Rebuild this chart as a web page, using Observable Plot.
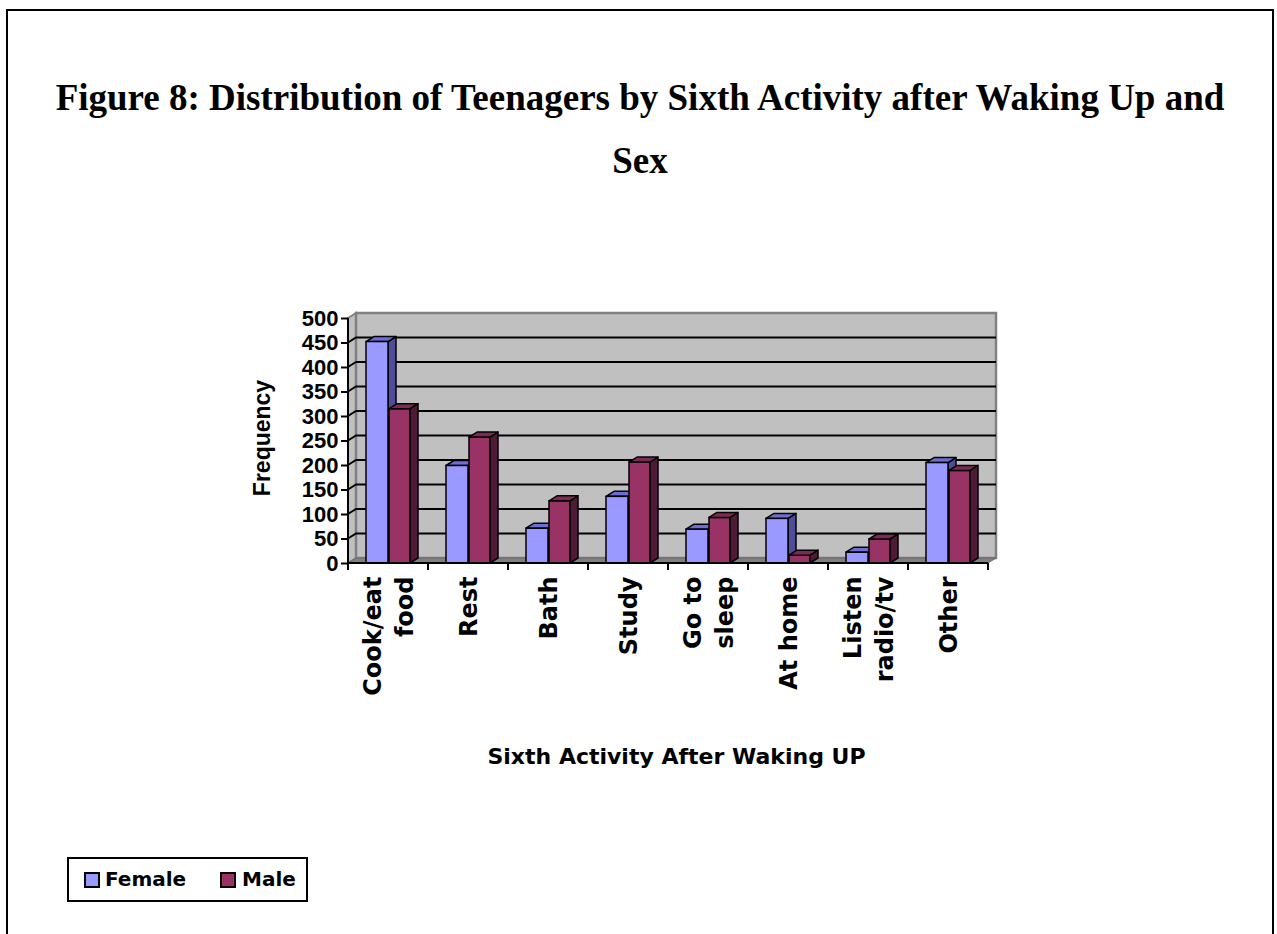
<!DOCTYPE html>
<html><head><meta charset="utf-8">
<script src="https://cdn.jsdelivr.net/npm/d3@7"></script>
<script src="https://cdn.jsdelivr.net/npm/@observablehq/plot@0.6"></script>
<style>
body{margin:0;background:#fff;}
#page{position:relative;width:1277px;height:934px;overflow:hidden;background:#fff;}
#border{position:absolute;left:6px;top:9px;width:1268px;height:960px;border:2px solid #000;box-sizing:border-box;}
#title{position:absolute;left:7px;width:1266px;top:66px;text-align:center;font-family:"Liberation Serif","Times New Roman",serif;font-weight:bold;font-size:37px;line-height:63px;color:#000;}
#chart{position:absolute;left:0;top:0;}
#legend{position:absolute;left:67px;top:857px;width:241px;height:45px;border:2px solid #000;box-sizing:border-box;background:#fff;font-family:"DejaVu Sans";font-weight:bold;font-size:20px;line-height:20px;color:#000;}
.sw{position:absolute;width:12px;height:12px;border:2px solid #000;}
.lt{position:absolute;white-space:nowrap;}
</style>
</head><body>
<div id="page">
  <div id="border"></div>
  <div id="title">Figure 8: Distribution of Teenagers by Sixth Activity after Waking Up and<br>Sex</div>
  <div id="chart"></div>
  <div id="legend"></div>
</div>
<script>
const categories = ["Cook/eat\nfood", "Rest", "Bath", "Study", "Go to\nsleep", "At home", "Listen\nradio/tv", "Other"];
const female = [452, 199, 71, 136, 69, 91, 22, 205];
const male = [315, 257, 127, 206, 93, 16, 49, 189];
const seriesNames = ["Female", "Male"];
const yTicks = [0, 50, 100, 150, 200, 250, 300, 350, 400, 450, 500];
const xTitle = "Sixth Activity After Waking UP";
const yTitle = "Frequency";

const colors = {
  Female: {front: "#9999FF", top: "#6E6ED6", side: "#4D4D99"},
  Male: {front: "#993366", top: "#7E2A55", side: "#4F1A35"}
};
const DX = 8, DY = 5;
const FONT = "DejaVu Sans";
const ARIAL = "Liberation Sans, Arial, sans-serif";

const rows = [];
categories.forEach((c, i) => {
  rows.push({cat: c, sex: "Female", value: female[i]});
  rows.push({cat: c, sex: "Male", value: male[i]});
});

const walls = (index, scales) => {
  const x = scales.x, y = scales.y;
  const bw = x.bandwidth();
  const L = x(categories[0]), R = x(categories[categories.length - 1]) + bw;
  const yt = y(yTicks[yTicks.length - 1]), yb = y(0);
  const g = d3.create("svg:g");
  g.append("polygon").attr("points", [[L, yt], [L + DX, yt - DY], [L + DX, yb - DY], [L, yb]].join(" "))
    .attr("fill", "#C0C0C0").attr("stroke", "#808080").attr("stroke-width", 2);
  g.append("rect").attr("x", L + DX).attr("y", yt - DY).attr("width", R - L).attr("height", yb - yt)
    .attr("fill", "#C0C0C0").attr("stroke", "#808080").attr("stroke-width", 2.5);
  g.append("polygon").attr("points", [[L, yb], [R, yb], [R + DX, yb - DY], [L + DX, yb - DY]].join(" "))
    .attr("fill", "#808080").attr("stroke", "#6a6a6a").attr("stroke-width", 1);
  yTicks.filter(v => v > 0 && v < yTicks[yTicks.length - 1]).forEach(v => {
    const yy = y(v);
    g.append("polyline").attr("points", [[L, yy], [L + DX, yy - DY], [R + DX, yy - DY]].join(" "))
      .attr("fill", "none").attr("stroke", "#000").attr("stroke-width", 2);
  });
  return g.node();
};

const faces = (vals, insetL, insetR, col) => (index, scales) => {
  const x = scales.x, y = scales.y;
  const bw = x.bandwidth();
  const g = d3.create("svg:g").attr("stroke", "#000").attr("stroke-width", 1.5).attr("stroke-linejoin", "round");
  categories.forEach((c, i) => {
    const x1 = x(c) + insetL, x2 = x(c) + bw - insetR, yt = y(vals[i]), yb = y(0);
    g.append("polygon").attr("points", [[x2, yt], [x2 + DX, yt - DY], [x2 + DX, yb - DY], [x2, yb]].join(" ")).attr("fill", col.side);
    g.append("polygon").attr("points", [[x1, yt], [x1 + DX, yt - DY], [x2 + DX, yt - DY], [x2, yt]].join(" ")).attr("fill", col.top);
  });
  return g.node();
};

const axisLines = (index, scales) => {
  const x = scales.x, y = scales.y;
  const bw = x.bandwidth();
  const L = x(categories[0]);
  const g = d3.create("svg:g").attr("stroke", "#000").attr("stroke-width", 2);
  g.append("line").attr("x1", L).attr("x2", L).attr("y1", y(yTicks[yTicks.length - 1])).attr("y2", y(0));
  const bounds = categories.map(c => x(c)).concat([x(categories[categories.length - 1]) + bw]);
  g.append("line").attr("x1", L).attr("x2", bounds[bounds.length - 1]).attr("y1", y(0)).attr("y2", y(0));
  bounds.forEach(b => g.append("line").attr("x1", b).attr("x2", b).attr("y1", y(0)).attr("y2", y(0) + 7));
  return g.node();
};

const singles = categories.filter(c => !c.includes("\n"));
const doubles = categories.filter(c => c.includes("\n"));
const catText = {frameAnchor: "bottom", rotate: -90, textAnchor: "end", lineAnchor: "bottom", dy: 13, fontSize: 24, fontWeight: "bold", fill: "#000"};

const F_IN = [18, 40], M_IN = [41, 18];

const plot = Plot.plot({
  width: 1277, height: 934,
  marginLeft: 348, marginRight: 289, marginTop: 318, marginBottom: 371,
  style: {fontFamily: FONT, background: "transparent", overflow: "visible", color: "#000"},
  x: {type: "band", domain: categories, padding: 0, round: false, axis: null},
  y: {domain: [0, 500], nice: false, axis: null},
  marks: [
    walls,
    faces(female, F_IN[0], F_IN[1], colors.Female),
    Plot.barY(rows.filter(d => d.sex === "Female"), {x: "cat", y: "value", fill: colors.Female.front, stroke: "#000", strokeWidth: 1.5, insetLeft: F_IN[0], insetRight: F_IN[1]}),
    Plot.barY(rows.filter(d => d.sex === "Male"), {x: "cat", y: "value", fill: colors.Male.front, stroke: "#000", strokeWidth: 1.5, insetLeft: M_IN[0], insetRight: M_IN[1]}),
    faces(male, M_IN[0], M_IN[1], colors.Male),
    axisLines,
    Plot.axisY({ticks: yTicks, tickSize: 7, tickPadding: 3, fontSize: 22, fontWeight: "bold", fontFamily: ARIAL, label: null, stroke: "#000", strokeWidth: 2, fill: "#000"}),
    Plot.text(singles, {...catText, x: d => d, text: d => d, dx: 8}),
    Plot.text(doubles, {...catText, x: d => d, text: d => d.split("\n")[0], dx: -8}),
    Plot.text(doubles, {...catText, x: d => d, text: d => d.split("\n")[1], dx: 24}),
    Plot.text([yTitle], {frameAnchor: "left", text: d => d, rotate: -90, textAnchor: "middle", lineAnchor: "bottom", dx: -79, dy: -3, fontSize: 23, fontWeight: "bold", fontFamily: ARIAL, fill: "#000"}),
    Plot.text([xTitle], {frameAnchor: "bottom", text: d => d, textAnchor: "middle", lineAnchor: "bottom", dx: 8, dy: 200, fontSize: 22, fontWeight: "bold", fill: "#000"})
  ]
});
document.getElementById("chart").appendChild(plot);

// legend
const leg = document.getElementById("legend");
const legPos = [{sw: 15, tx: 36}, {sw: 151, tx: 173}];
seriesNames.forEach((s, i) => {
  const sw = document.createElement("div");
  sw.className = "sw";
  sw.style.left = legPos[i].sw + "px";
  sw.style.top = "13px";
  sw.style.background = colors[s].front;
  leg.appendChild(sw);
  const t = document.createElement("div");
  t.className = "lt";
  t.style.left = legPos[i].tx + "px";
  t.style.top = "10px";
  t.textContent = s;
  leg.appendChild(t);
});
</script>
</body></html>
